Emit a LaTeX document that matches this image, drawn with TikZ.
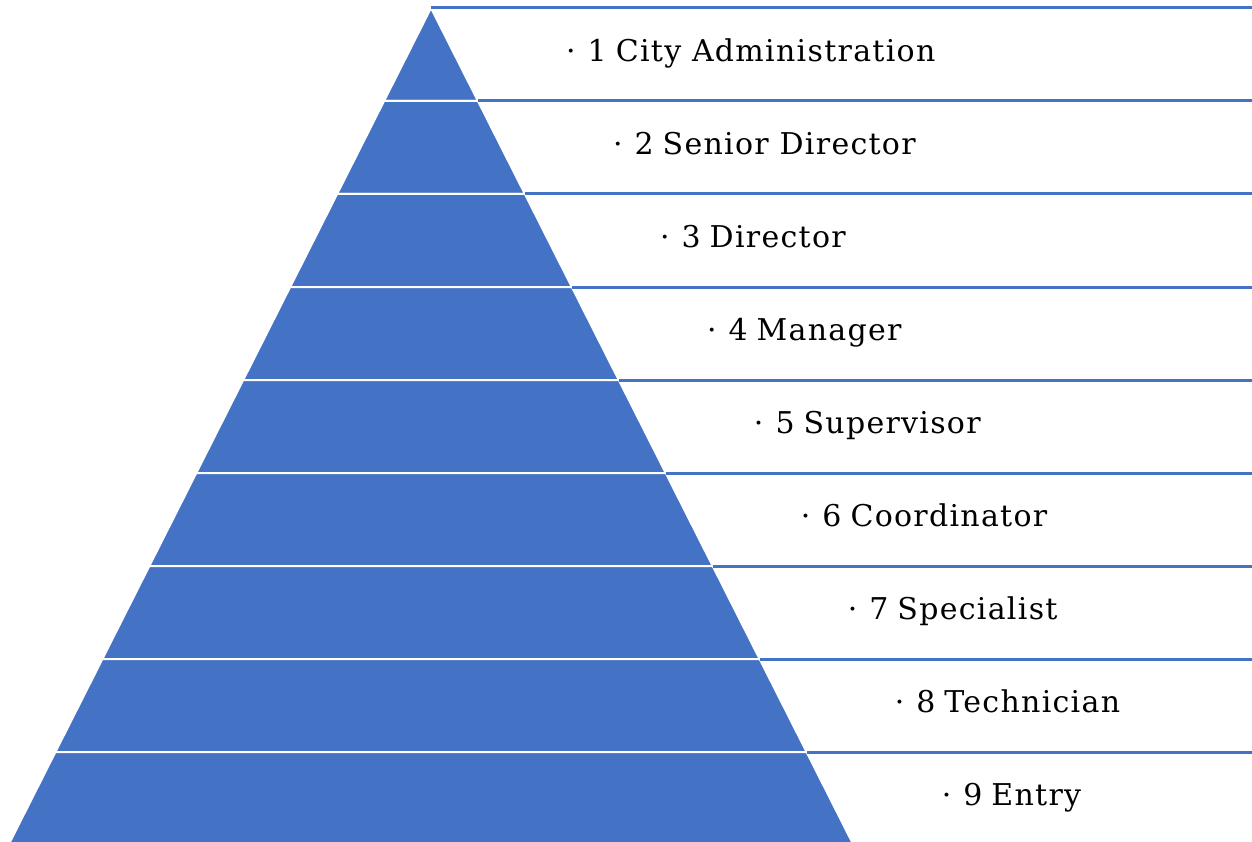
\documentclass[tikz,border=0pt]{standalone}
\usepackage{fontspec}
\setmainfont{DejaVu Serif}[LetterSpace=4.3]
\definecolor{tierblue}{HTML}{4472C4}
\begin{document}
\begin{tikzpicture}[x=1pt,y=-1pt,
  tier/.style={fill=tierblue, draw=white, line width=2pt, line join=miter},
  tierrule/.style={draw=tierblue, line width=3pt},
  tierlabel/.style={anchor=base west, inner sep=0pt, text=black,
    font=\fontsize{30}{36}\selectfont}]
\useasboundingbox (0,0) rectangle (1252,842);
\clip (0,0) rectangle (1252,842);
% pyramid geometry: apex, first rule, row height, half-width growth per unit height
\def\pyrapex{431}\def\pyrtop{8}\def\pyrrow{93}\def\pyrslope{0.5048}
\foreach \k/\tiername in {1/City Administration, 2/Senior Director, 3/Director,
    4/Manager, 5/Supervisor, 6/Coordinator, 7/Specialist, 8/Technician, 9/Entry} {
  \pgfmathsetmacro{\ya}{\pyrtop+\pyrrow*(\k-1)}
  \pgfmathsetmacro{\yb}{\ya+\pyrrow}
  \pgfmathsetmacro{\ym}{\ya+\pyrrow/2}
  \pgfmathsetmacro{\la}{\pyrapex-\pyrslope*(\ya-\pyrtop)}
  \pgfmathsetmacro{\ra}{\pyrapex+\pyrslope*(\ya-\pyrtop)}
  \pgfmathsetmacro{\lb}{\pyrapex-\pyrslope*(\yb-\pyrtop)}
  \pgfmathsetmacro{\rb}{\pyrapex+\pyrslope*(\yb-\pyrtop)}
  \pgfmathsetmacro{\rm}{\pyrapex+\pyrslope*(\ym-\pyrtop)}
  \filldraw[tier] (\la,\ya) -- (\ra,\ya) -- (\rb,\yb) -- (\lb,\yb) -- cycle;
  \draw[tierrule] (\ra,\ya) -- (1252,\ya);
  \node[tierlabel] (L\k) at (\rm+111.5,\ym+7) {·\hspace{12pt}\k\hspace{9pt}\tiername};
}
\end{tikzpicture}
\end{document}
